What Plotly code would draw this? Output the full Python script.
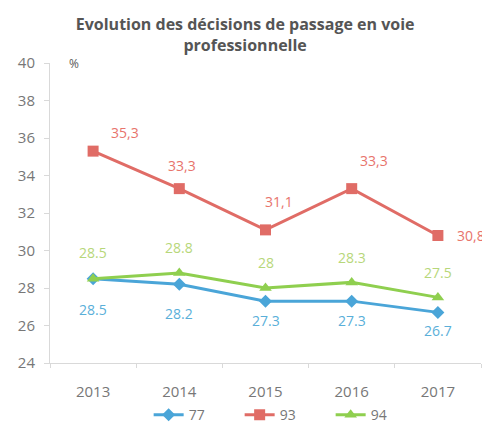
import plotly.graph_objects as go

years = [2013, 2014, 2015, 2016, 2017]
dep77 = [28.5, 28.2, 27.3, 27.3, 26.7]
dep93 = [35.3, 33.3, 31.1, 33.3, 30.8]
dep94 = [28.5, 28.8, 28.0, 28.3, 27.5]
labels77 = ["28.5", "28.2", "27.3", "27.3", "26.7"]
labels93 = ["35,3", "33,3", "31,1", "33,3", "30,8"]
labels94 = ["28.5", "28.8", "28", "28.3", "27.5"]

# label placement (pixel offsets from the marker)
off77 = [(0, -31), (0, -29), (0, -19), (0, -19), (0, -18)]
off93 = [(32, 19), (3, 23), (13, 28), (22, 28), (33, 0)]
off94 = [(0, 26), (0, 26), (0, 26), (0, 25), (0, 25)]

BLUE = "#4aa5d8"
RED = "#e06c66"
GREEN = "#8fcf4f"
FONT = "Open Sans, Lato, sans-serif"
GREY = "#777777"

fig = go.Figure()
series = [
    ("77", dep77, labels77, off77, BLUE, "diamond", 10, "#5aafd9"),
    ("93", dep93, labels93, off93, RED, "square", 11, "#e8746c"),
    ("94", dep94, labels94, off94, GREEN, "triangle-up", 11, "#b7d77a"),
]
for name, vals, labs, offs, col, sym, size, lcol in series:
    fig.add_trace(go.Scatter(
        x=years, y=vals, name=name, mode="lines+markers",
        line=dict(color=col, width=3),
        marker=dict(symbol=sym, size=size, color=col),
    ))
    for x, y, t, (dx, dy) in zip(years, vals, labs, offs):
        fig.add_annotation(x=x, y=y, text=t, showarrow=False,
                           xshift=dx, yshift=dy,
                           font=dict(family=FONT, size=14, color=lcol))

fig.add_annotation(xref="paper", yref="paper", x=0.04, y=1.033, text="%",
                   showarrow=False, font=dict(family=FONT, size=12, color="#595959"))

# the page body adds an 8px margin, so the figure is 8px smaller each way
fig.update_layout(
    width=482, height=424,
    margin=dict(l=42, r=9, t=55, b=69),
    paper_bgcolor="white", plot_bgcolor="white",
    font=dict(family=FONT, color=GREY),
    title=dict(text="Evolution des décisions de passage en voie<br>professionnelle",
               x=0.492, xanchor="center", y=0.947, yanchor="middle",
               font=dict(family=FONT, size=16, color="#555555", weight="bold")),
    xaxis=dict(range=[2012.5, 2017.5], tickvals=years, showgrid=False,
               showline=True, linecolor="#d9d9d9", ticks="", zeroline=False,
               automargin=False, ticklabelstandoff=15,
               minor=dict(tick0=2012.5, dtick=1, ticks="outside", ticklen=4,
                          tickcolor="#d9d9d9", showgrid=False),
               tickfont=dict(size=15, color=GREY)),
    yaxis=dict(range=[24, 40], dtick=2, showgrid=False, showline=True,
               linecolor="#d9d9d9", ticks="outside", ticklen=5, tickcolor="#d9d9d9",
               zeroline=False, automargin=False, ticklabelstandoff=6,
               tickfont=dict(size=15, color=GREY)),
    legend=dict(orientation="h", xref="container", yref="container",
                x=0.575, xanchor="center", y=0.04, yanchor="middle",
                entrywidth=46, entrywidthmode="pixels",
                font=dict(family=FONT, size=14, color=GREY)),
    showlegend=True,
)

fig.write_html("out.html")
